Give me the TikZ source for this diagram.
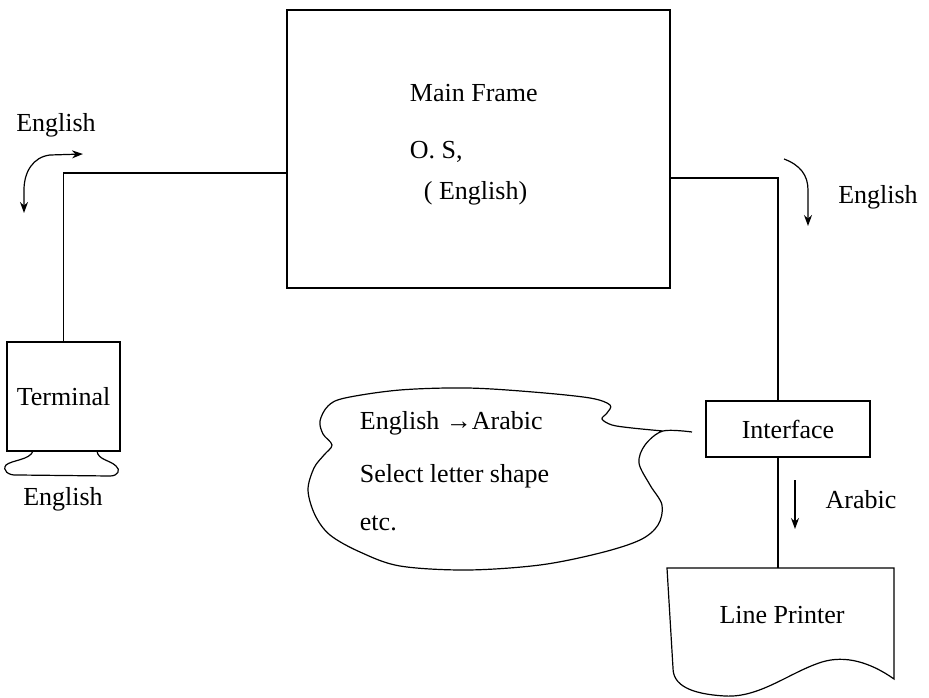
\documentclass[tikz,border=0pt]{standalone}
\usepackage{fontspec}
\setmainfont{Liberation Serif}
\usetikzlibrary{arrows.meta}

\begin{document}
\begin{tikzpicture}
	[x=1pt,y=-1pt,line width=1.2pt,
	every node/.style={font=\fontsize{26}{30}\selectfont},
	box/.style={draw,rectangle,inner sep=0pt},
	flow/.style={-{Stealth[length=11pt,width=8pt]}}]
	\useasboundingbox (0,0) rectangle (929,698);
	
	% boxes
	\node[box,minimum width=383pt,minimum height=278pt] (frame) at (478.5,149) {};
	\node[anchor=west] (mfname) at (406,93) {Main Frame};
	\node[anchor=west] (mfos) at (406,152) {O. S,};
	\node[anchor=west] (mflang) at (420,193) {( English)};
	
	\node[box,minimum width=113pt,minimum height=109pt] (terminal) at (63.5,396.5) {Terminal};
	\draw (33,451) .. controls (30,460) and (12,460) .. (6,465) .. controls (2,470) and (8,476) .. (18,475)
		-- (110,476) .. controls (118,476) and (121,470) .. (116,466) .. controls (110,460) and (98,460) .. (97,451);
	
	\node[box,minimum width=164pt,minimum height=56pt] (interface) at (788,429) {Interface};
	
	\draw (667,568) -- (894,568) -- (894,679) .. controls (870,662) and (845,655) .. (822,662)
		.. controls (790,672) and (760,698) .. (725,696) .. controls (690,694) and (673,685) .. (673,668) -- cycle;
	\node (printer) at (782,615) {Line Printer};
	
	% cloud
	\coordinate (tail) at (692,432);
	\draw plot[smooth,tension=0.55] coordinates {(tail) (663,431) (645,445) (639,463) (650,485) (662,505)
		(658,525) (640,540) (600,553) (540,565) (467,570) (400,566) (360,552) (330,535) (315,515) (308,490)
		(314,468) (324,455) (332,445) (323,434) (320,421) (328,406) (345,398) (400,390) (467,388) (533,392)
		(590,398) (610,405) (607,413) (602,419) (612,425) (632,428) (663,431)};
	\node[anchor=west] (cl1) at (356,423) {English →Arabic};
	\node[anchor=west] (cl2) at (356,476) {Select letter shape};
	\node[anchor=west] (cl3) at (356,523) {etc.};
	
	% connectors
	\coordinate (lbend) at (63.5,173);
	\coordinate (rbend) at (778,178);
	\coordinate (ptop) at (778,568);
	\draw (frame.west |- lbend) -- (lbend) -- (terminal.north);
	\draw (frame.east |- rbend) -- (rbend) -- (rbend |- interface.north);
	\draw (rbend |- interface.south) -- (ptop);
	
	% direction arrows
	\draw[flow] (50,155) .. controls (33,157) and (24,172) .. (24,190) -- (24,213);
	\draw[flow] (50,155) -- (83,154);
	\draw[flow] (784,159) .. controls (800,165) and (808,175) .. (808,190) -- (808,226);
	\draw[flow] (795,480) -- (795,529);
	
	\node (engtop) at (56,125) {English};
	\node (engright) at (878,197) {English};
	\node (engterm) at (63,499) {English};
	\node (arabic) at (861,500) {Arabic};
\end{tikzpicture}
\end{document}
